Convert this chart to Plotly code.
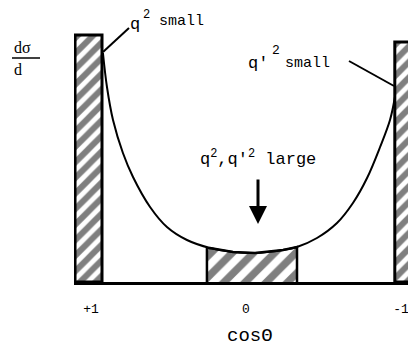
import plotly.graph_objects as go

# d(sigma)/d(cos theta) sketch (axis runs +1 -> -1)
curve_x = [0.923, 0.897, 0.858, 0.794, 0.729, 0.619, 0.510, 0.381, 0.232, 0.084,
           -0.058, -0.239, -0.329, -0.458, -0.587, -0.690, -0.781, -0.865, -0.929, -0.961]
curve_y = [2.29, 1.95, 1.62, 1.29, 1.05, 0.75, 0.55, 0.42, 0.34, 0.30,
           0.29, 0.32, 0.35, 0.44, 0.59, 0.79, 1.04, 1.35, 1.62, 1.85]

# hatched band around cos(theta) = 0, its top follows the curve
mid_x = [0.252, 0.232, 0.084, -0.058, -0.239, -0.329]
mid_y = [0.335, 0.34, 0.30, 0.29, 0.32, 0.35]

# hatched bands at the two ends (q^2 small / q'^2 small)
end_x = [1.016, -1.08]
end_w = [0.174, 0.24]
end_h = [2.47, 2.40]

tick_vals = [1, 0, -1]
tick_text = ['+1', '0', '-1']

MONO = 'Liberation Mono'
# the page body keeps its default 8px margin, so the figure is drawn 8px in
OFF = 8
W, H = 416, 349
PL, PB = 74, 282     # plot area left edge / baseline, in page pixels
X0, XS = 246, 155    # page column of cos=0, pixels per unit


def px(x):
    """page column -> paper x"""
    return (x - PL) / (W - PL)


def py(y):
    """page row -> paper y"""
    return (PB - y) / (PB - OFF)


hatch = dict(shape='/', fgcolor='black', bgcolor='white')

data = []

data.append(go.Bar(
    x=end_x,
    y=end_h,
    width=end_w,
    marker=dict(
        color='white',
        line=dict(color='black', width=3),
        pattern=dict(hatch, size=11, solidity=0.55),
    ),
    hoverinfo='skip',
))

data.append(go.Scatter(
    x=[mid_x[0]] + mid_x + [mid_x[-1]],
    y=[0] + mid_y + [0],
    mode='lines',
    fill='toself',
    fillcolor='white',
    fillpattern=dict(hatch, size=15, solidity=0.5),
    line=dict(color='black', width=2.5),
    hoverinfo='skip',
))

data.append(go.Scatter(
    x=curve_x,
    y=curve_y,
    mode='lines',
    line=dict(color='black', width=2, shape='spline'),
    hoverinfo='skip',
))


def label(text, x, y, size=16, family=MONO, anchor='center'):
    return dict(text=text, x=px(x), y=py(y), xref='paper', yref='paper',
                xanchor=anchor, yanchor='middle', showarrow=False,
                font=dict(family=family, size=size, color='black'))


annotations = [
    label('dσ', 12, 47, 16, 'Liberation Serif', 'left'),
    label('d', 12, 70, 16, 'Liberation Serif', 'left'),
    label('q', 135, 24, 17),
    label('2', 146, 15, 12),
    label('small', 157, 21, 15, anchor='left'),
    label("q'", 258, 63, 17),
    label('2', 276, 50, 13),
    label('small', 283, 63, 15, anchor='left'),
    label("q<sup>2</sup>,q'<sup>2</sup> large", 258, 158, 17),
    label('cosΘ', 250, 336, 19),
    dict(x=px(258), y=py(224), xref='paper', yref='paper', text='',
         showarrow=True, ax=0, ay=-46, arrowhead=2, arrowsize=1.2,
         arrowwidth=3, arrowcolor='black'),
]

shapes = [
    dict(type='line', xref='paper', yref='paper', x0=px(12), x1=px(40),
         y0=py(58), y1=py(58), line=dict(color='black', width=1.5)),
    dict(type='line', xref='paper', yref='paper', x0=px(103), x1=px(129),
         y0=py(52), y1=py(28), line=dict(color='black', width=2)),
    dict(type='line', xref='paper', yref='paper', x0=px(349), x1=px(394),
         y0=py(61), y1=py(86), line=dict(color='black', width=2)),
]

layout = go.Layout(dict(
    width=W - OFF,
    height=H - OFF,
    margin=dict(l=PL - OFF, r=0, t=0, b=H - PB, pad=0),
    paper_bgcolor='white',
    plot_bgcolor='white',
    showlegend=False,
    xaxis=dict(
        range=[(X0 - PL) / XS, (X0 - W) / XS],
        tickvals=tick_vals,
        ticktext=tick_text,
        ticks='',
        ticklabelstandoff=12,
        tickfont=dict(family=MONO, size=13, color='black'),
        showline=True,
        linecolor='black',
        linewidth=3,
        showgrid=False,
        zeroline=False,
    ),
    yaxis=dict(range=[0, (PB - OFF) / 100], visible=False),
    annotations=annotations,
    shapes=shapes,
))

fig = go.Figure(data=data, layout=layout)
fig.write_html('out.html')
